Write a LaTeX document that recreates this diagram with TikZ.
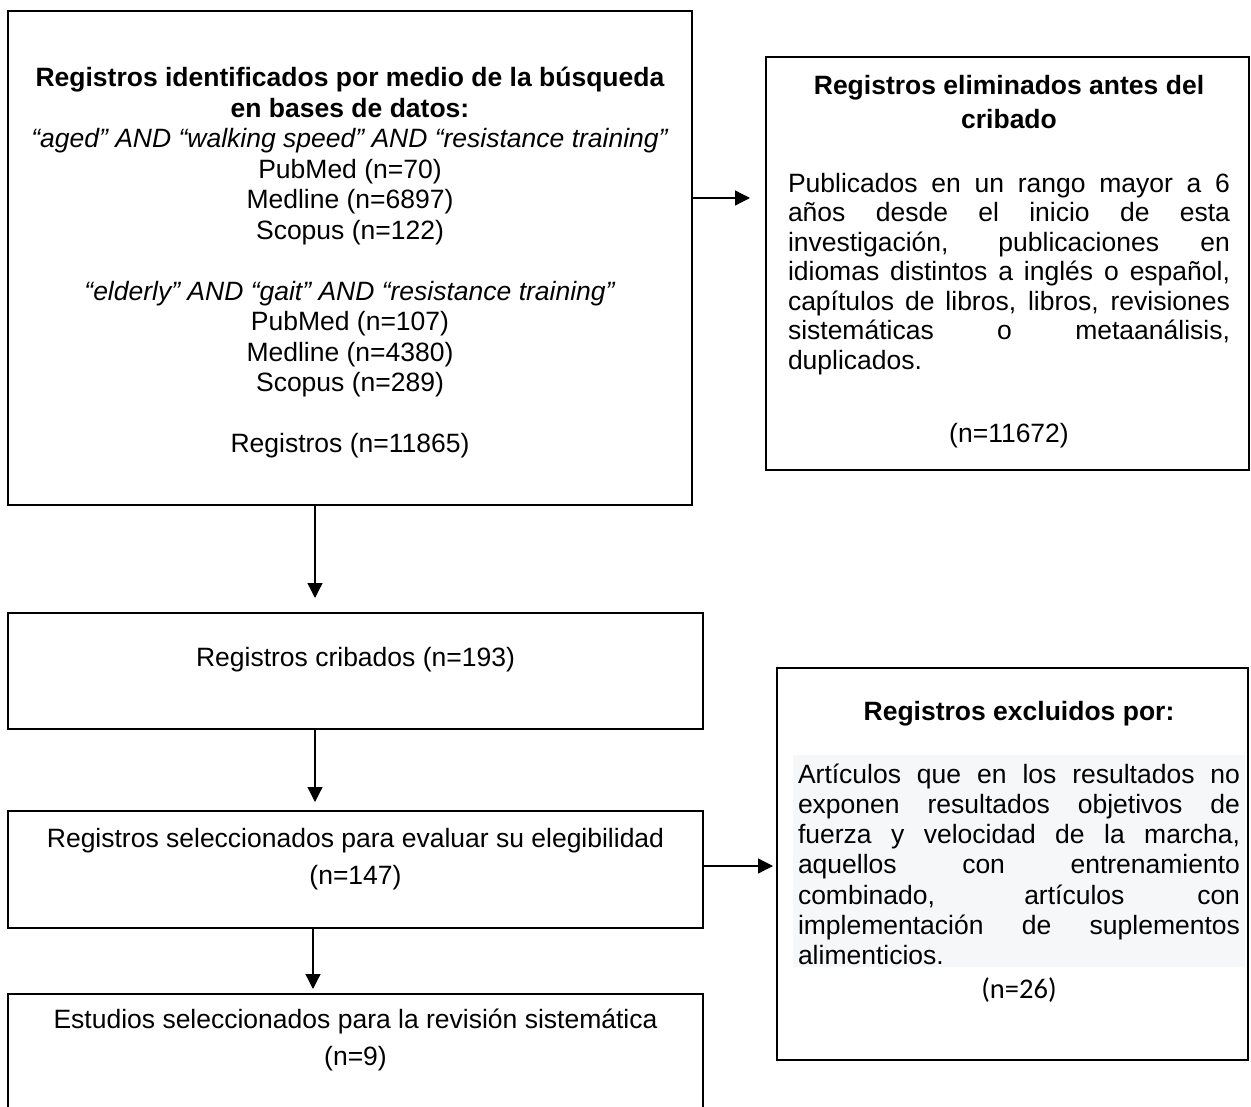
\documentclass[tikz,border=0pt]{standalone}
\usepackage{fontspec}
\setmainfont{Liberation Sans}
\newfontfamily\calibri{Carlito}
\usetikzlibrary{arrows.meta}
\definecolor{bgF}{HTML}{F6F7F9}
\newcommand\fs{\fontsize{26.5}{30.5}\selectfont}
\newcommand\tstrut{\rule{0pt}{26pt}}
\tikzset{
  box/.style={draw, line width=2.5pt, inner sep=0pt, outer sep=0pt, anchor=north west},
  txt/.style={inner sep=0pt, outer sep=0pt, anchor=north, align=center, font=\fs},
  para/.style={inner sep=0pt, outer sep=0pt, anchor=north, text width=442pt, align=justify,
    font={\fontsize{26.5}{29.5}\selectfont\parindent=0pt\hyphenpenalty=10000}},
  arr/.style={line width=1.3pt, -{Triangle[length=15pt,width=15pt]}},
}
\begin{document}
\begin{tikzpicture}[x=1pt,y=-1pt]
\useasboundingbox (0,0) rectangle (1251,1107);
\clip (0,0) rectangle (1251,1107);
% boxes
\node[box, minimum width=684pt, minimum height=494pt] (A) at (8,11) {};
\node[box, minimum width=483pt, minimum height=413pt] (B) at (766,57) {};
\node[box, minimum width=695pt, minimum height=116pt] (C) at (8,613) {};
\node[box, minimum width=695pt, minimum height=117pt] (D) at (8,811) {};
\node[box, minimum width=695pt, minimum height=140pt] (E) at (8,994) {};
\node[box, minimum width=471pt, minimum height=392pt] (F) at (777,668) {};
% box A text
\node[txt] (Atxt) at (350,60.5) {\tstrut\textbf{Registros identificados por medio de la búsqueda}\\
  \textbf{en bases de datos:}\\
  \textit{“aged” AND “walking speed” AND “resistance training”}\\
  PubMed (n=70)\\
  Medline (n=6897)\\
  Scopus (n=122)\\[30.5pt]
  \textit{“elderly” AND “gait” AND “resistance training”}\\
  PubMed (n=107)\\
  Medline (n=4380)\\
  Scopus (n=289)\\[30.5pt]
  Registros (n=11865)};
% box B text
\node[txt, font={\fontsize{26.5}{34}\selectfont}] (Btitle) at (1009,68.5) {\tstrut\textbf{Registros eliminados antes del}\\ \textbf{cribado}};
\node[para] (Bbody) at (1009,166.5) {\tstrut Publicados en un rango mayor a 6\linebreak
años desde el inicio de esta\linebreak
investigación, publicaciones en\linebreak
idiomas distintos a inglés o español,\linebreak
capítulos de libros, libros, revisiones\linebreak
sistemáticas o metaanálisis,\linebreak
duplicados.};
\node[txt] (Bn) at (1009,416.5) {\tstrut(n=11672)};
% box F text
\node[txt] (Ftitle) at (1019,694.5) {\tstrut\textbf{Registros excluidos por:}};
\node[para, fill=bgF, inner xsep=5pt, inner ysep=2pt, font={\fontsize{26.5}{30.3}\selectfont\parindent=0pt\hyphenpenalty=10000}] (Fbody) at (1019,755) {\tstrut Artículos que en los resultados no\linebreak
exponen resultados objetivos de\linebreak
fuerza y velocidad de la marcha,\linebreak
aquellos con entrenamiento\linebreak
combinado, artículos con\linebreak
implementación de suplementos\linebreak
alimenticios.};
\node[txt, font={\calibri\fontsize{28.5}{30}\selectfont}] (Fn) at (1019,972.5) {\tstrut(n=26)};
% boxes C, D, E text
\node[txt] (Ctxt) at (355.5,640.5) {\tstrut Registros cribados (n=193)};
\node[txt, font={\fontsize{26.5}{37}\selectfont}] (Dtxt) at (355.5,821.5) {\tstrut Registros seleccionados para evaluar su elegibilidad\\ (n=147)};
\node[txt, font={\fontsize{26.5}{37}\selectfont}] (Etxt) at (355.5,1002) {\tstrut Estudios seleccionados para la revisión sistemática\\ (n=9)};
% connectors
\coordinate (ABy) at (0,198);
\coordinate (DFy) at (0,866);
\coordinate (colx) at (315,0);
\coordinate (colx2) at (313,0);
\draw[arr, shorten >=16pt] (A.east |- ABy) -- (B.west |- ABy);
\draw[arr, shorten >=15pt] (A.south -| colx) -- (C.north -| colx);
\draw[arr, shorten >=9pt] (C.south -| colx) -- (D.north -| colx);
\draw[arr, shorten >=5pt] (D.south -| colx2) -- (E.north -| colx2);
\draw[arr, shorten >=4pt] (D.east |- DFy) -- (F.west |- DFy);
\end{tikzpicture}
\end{document}
